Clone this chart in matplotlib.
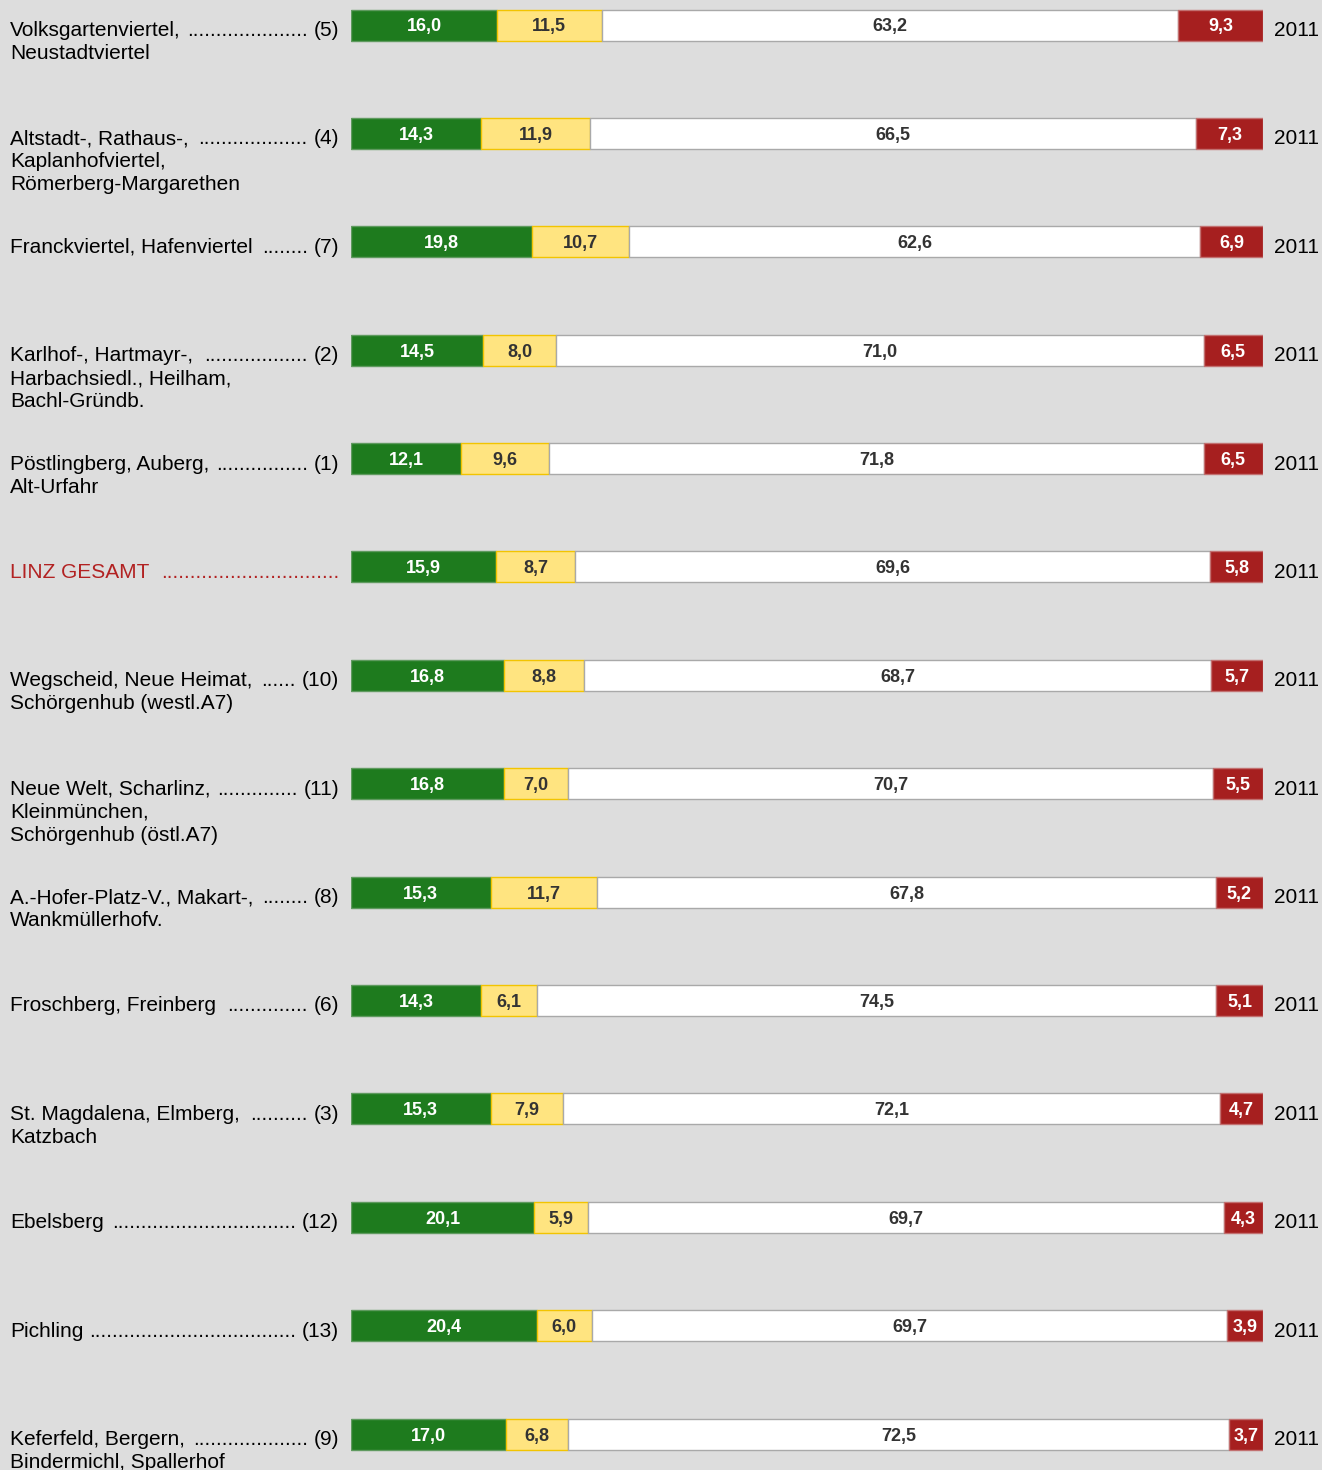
import matplotlib
matplotlib.use("Agg")
import matplotlib.pyplot as plt
from matplotlib import transforms

plt.rcParams["font.family"] = ["Liberation Sans", "DejaVu Sans"]

# ---- data -------------------------------------------------------------
areas = [
    ["Volksgartenviertel,", "Neustadtviertel"],
    ["Altstadt-, Rathaus-,", "Kaplanhofviertel,", "Römerberg-Margarethen"],
    ["Franckviertel, Hafenviertel"],
    ["Karlhof-, Hartmayr-,", "Harbachsiedl., Heilham,", "Bachl-Gründb."],
    ["Pöstlingberg, Auberg,", "Alt-Urfahr"],
    ["LINZ GESAMT"],
    ["Wegscheid, Neue Heimat,", "Schörgenhub (westl.A7)"],
    ["Neue Welt, Scharlinz,", "Kleinmünchen,", "Schörgenhub (östl.A7)"],
    ["A.-Hofer-Platz-V., Makart-,", "Wankmüllerhofv."],
    ["Froschberg, Freinberg"],
    ["St. Magdalena, Elmberg,", "Katzbach"],
    ["Ebelsberg"],
    ["Pichling"],
    ["Keferfeld, Bergern,", "Bindermichl, Spallerhof"],
]
district_no = ["(5)", "(4)", "(7)", "(2)", "(1)", "", "(10)", "(11)", "(8)",
               "(6)", "(3)", "(12)", "(13)", "(9)"]
year = "2011"

green = [16.0, 14.3, 19.8, 14.5, 12.1, 15.9, 16.8, 16.8, 15.3, 14.3, 15.3, 20.1, 20.4, 17.0]
yellow = [11.5, 11.9, 10.7, 8.0, 9.6, 8.7, 8.8, 7.0, 11.7, 6.1, 7.9, 5.9, 6.0, 6.8]
white = [63.2, 66.5, 62.6, 71.0, 71.8, 69.6, 68.7, 70.7, 67.8, 74.5, 72.1, 69.7, 69.7, 72.5]
red = [9.3, 7.3, 6.9, 6.5, 6.5, 5.8, 5.7, 5.5, 5.2, 5.1, 4.7, 4.3, 3.9, 3.7]

# ---- styling ----------------------------------------------------------
BG = "#dddddd"
segments = [
    (green, "#1e7b1e", "#5f9a5f", "white"),
    (yellow, "#ffe480", "#f2c400", "#333333"),
    (white, "#ffffff", "#a9a9a9", "#333333"),
    (red, "#a61f1f", "#c27070", "white"),
]
TOTAL_RED = "#b22222"

W, H, DPI = 1322, 1470, 100
fig = plt.figure(figsize=(W / DPI, H / DPI), dpi=DPI, facecolor=BG)

# bar area spans from x=351 px to x=1263 px
ax = fig.add_axes([351 / W, 0, 912 / W, 1])
ax.set_facecolor(BG)
ax.axis("off")
ax.set_xlim(0, 100)

n = len(green)
first_c, last_c = 25, 1434          # centre rows (px from top)
pitch = (last_c - first_c) / (n - 1)
ax.set_ylim((H - first_c) / pitch, -first_c / pitch)
bar_h = 31 / pitch

rows = list(range(n))
left = [0.0] * n
for vals, fc, ec, tc in segments:
    ax.barh(rows, vals, left=left, height=bar_h, color=fc, edgecolor=ec,
            linewidth=1.0)
    for i, v in enumerate(vals):
        ax.text(left[i] + v / 2, i, f"{v:.1f}".replace(".", ","),
                ha="center", va="center_baseline", fontsize=13,
                fontweight="bold", color=tc)
    left = [l + v for l, v in zip(left, vals)]

# ---- left labels and right year --------------------------------------
blend = transforms.blended_transform_factory(fig.transFigure, ax.transData)
FS = 15
LINE = 23  # px between label lines

renderer = fig.canvas.get_renderer()


def width_px(s, **kw):
    t = fig.text(0, 0, s, fontsize=FS, **kw)
    w = t.get_window_extent(renderer).width
    t.remove()
    return w


dot_w = width_px("." * 40) / 40
space_w = width_px("a a") - width_px("aa")
x_left, x_right = 10, 339

for i, lines in enumerate(areas):
    col = TOTAL_RED if not district_no[i] else "black"
    for k, line in enumerate(lines):
        tr = transforms.offset_copy(blend, fig=fig, y=-(11 + k * LINE),
                                    units="dots")
        t = fig.text(x_left / W, i, line, transform=tr, fontsize=FS,
                     color=col, ha="left", va="baseline")
        if k == 0:
            name_end = t.get_window_extent(renderer).x1
            if district_no[i]:
                num = fig.text(x_right / W, i, district_no[i], transform=tr,
                               fontsize=FS, color=col, ha="right",
                               va="baseline")
                dots_end = num.get_window_extent(renderer).x0 - space_w
            else:
                dots_end = x_right
            gap = dots_end - name_end - space_w
            nd = max(int(gap // dot_w), 0)
            fig.text(dots_end / W, i, "." * nd, transform=tr, fontsize=FS,
                     color=col, ha="right", va="baseline")
    tr = transforms.offset_copy(blend, fig=fig, y=-11, units="dots")
    fig.text(1274 / W, i, year, transform=tr, fontsize=FS, color="black",
             ha="left", va="baseline")

fig.savefig("out.png", dpi=DPI, facecolor=BG)
